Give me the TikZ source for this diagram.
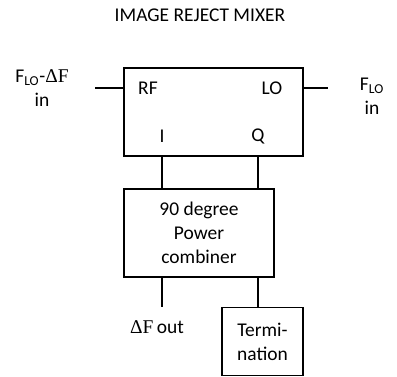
\documentclass[tikz,border=0pt]{standalone}
\usepackage{fontspec}
\setmainfont{Carlito}
\newfontfamily\symfont{Liberation Serif}
\usetikzlibrary{positioning}
\newcommand{\dF}{{\symfont ΔF}}
\tikzset{
  blk/.style={rectangle, draw=black, line width=0.9pt, inner sep=2pt,
              align=center, font=\fontsize{14.6}{18}\selectfont},
  lbl/.style={inner sep=0pt, align=center, font=\fontsize{14.6}{18}\selectfont},
  wire/.style={line width=0.9pt},
}

\begin{document}
\begin{tikzpicture}[x=0.75pt, y=-0.75pt]
  \useasboundingbox (0,0) rectangle (397,377);
  \node[lbl] (title) at (200,15) {IMAGE REJECT MIXER};
  % blocks
  \node[blk, minimum width=134.25pt, minimum height=66pt] (mix) at (213.5,112) {};
  \node[blk, minimum width=112.5pt, minimum height=66pt] (comb) at (199,233)
    {90 degree\\Power\\combiner};
  \node[blk, minimum width=60.75pt, minimum height=51.5pt] (term) at (262.5,341.5)
    {Termi-\\nation};
  % mixer ports
  \node[lbl] (rf) at (148,88) {RF};
  \node[lbl] (lo) at (272,88) {LO};
  \node[lbl] (pi) at (162,136) {I};
  \node[lbl] (pq) at (258,136) {Q};
  % outside labels
  \node[lbl] (rfin) at (42,88) {F\textsubscript{LO}-\dF\\in};
  \node[lbl] (loin) at (372,96) {F\textsubscript{LO}\\in};
  \node[lbl] (dfout) at (157,327) {\dF\,out};
  \coordinate (rfend) at (95,88);
  \coordinate (loend) at (328,88);
  \coordinate (outend) at (162,307);
  % connectors
  \draw[wire] (rfend) -- (mix.west |- rf);
  \draw[wire] (mix.east |- lo) -- (loend);
  \draw[wire] (mix.south -| pi) -- (comb.north -| pi);
  \draw[wire] (mix.south -| pq) -- (comb.north -| pq);
  \draw[wire] (comb.south -| pi) -- (outend);
  \draw[wire] (comb.south -| pq) -- (term.north -| pq);
\end{tikzpicture}
\end{document}
